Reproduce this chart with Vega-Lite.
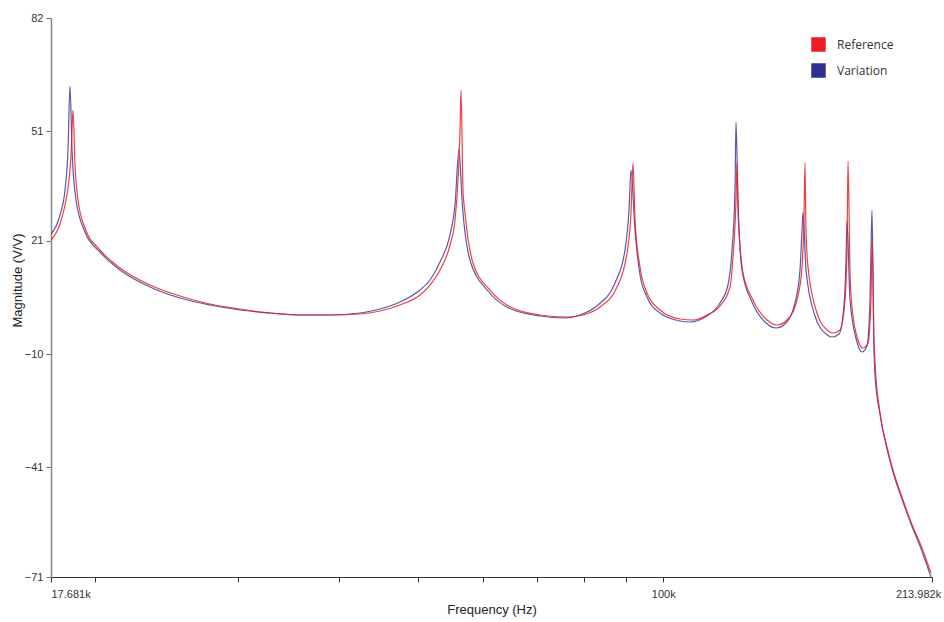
{
  "$schema": "https://vega.github.io/schema/vega-lite/v6.json",
  "autosize": {"type": "none"},
  "padding": {"left": 51, "top": 18, "right": 12, "bottom": 45},
  "width": 881,
  "height": 559,
  "background": "white",
  "config": {
    "view": {"stroke": null},
    "font": "Liberation Sans",
    "axis": {"grid": false, "labelFont": "Liberation Sans", "titleFont": "Liberation Sans", "labelColor": "#333", "titleColor": "#222", "labelFontSize": 11, "titleFontSize": 13, "titleFontWeight": "normal", "tickSize": 5, "tickColor": "#555", "domainColor": "#555", "domainWidth": 1.2}
  },
  "datasets": {
    "variation": [
      {"f": 17681, "m": 22.88, "series": "Variation"},
      {"f": 18137, "m": 28.08, "series": "Variation"},
      {"f": 18396, "m": 34.92, "series": "Variation"},
      {"f": 18552, "m": 45.87, "series": "Variation"},
      {"f": 18658, "m": 63.39, "series": "Variation"},
      {"f": 18764, "m": 45.87, "series": "Variation"},
      {"f": 18977, "m": 32.19, "series": "Variation"},
      {"f": 19467, "m": 23.43, "series": "Variation"},
      {"f": 20311, "m": 17.95, "series": "Variation"},
      {"f": 21494, "m": 13.03, "series": "Variation"},
      {"f": 23399, "m": 8.37, "series": "Variation"},
      {"f": 25473, "m": 5.36, "series": "Variation"},
      {"f": 27730, "m": 3.45, "series": "Variation"},
      {"f": 30187, "m": 2.08, "series": "Variation"},
      {"f": 32861, "m": 1.26, "series": "Variation"},
      {"f": 35773, "m": 0.71, "series": "Variation"},
      {"f": 38943, "m": 0.71, "series": "Variation"},
      {"f": 42393, "m": 1.26, "series": "Variation"},
      {"f": 44862, "m": 2.35, "series": "Variation"},
      {"f": 47477, "m": 4.27, "series": "Variation"},
      {"f": 50241, "m": 7.55, "series": "Variation"},
      {"f": 51684, "m": 10.29, "series": "Variation"},
      {"f": 53167, "m": 15.22, "series": "Variation"},
      {"f": 54694, "m": 22.61, "series": "Variation"},
      {"f": 55473, "m": 30.82, "series": "Variation"},
      {"f": 56105, "m": 46.15, "series": "Variation"},
      {"f": 56583, "m": 32.19, "series": "Variation"},
      {"f": 57879, "m": 15.76, "series": "Variation"},
      {"f": 60903, "m": 7.28, "series": "Variation"},
      {"f": 63905, "m": 3.17, "series": "Variation"},
      {"f": 70559, "m": 0.44, "series": "Variation"},
      {"f": 75733, "m": -0.11, "series": "Variation"},
      {"f": 79017, "m": 0.71, "series": "Variation"},
      {"f": 83147, "m": 3.45, "series": "Variation"},
      {"f": 87245, "m": 9.47, "series": "Variation"},
      {"f": 89749, "m": 18.5, "series": "Variation"},
      {"f": 90771, "m": 29.45, "series": "Variation"},
      {"f": 91287, "m": 40.4, "series": "Variation"},
      {"f": 92326, "m": 23.98, "series": "Variation"},
      {"f": 93642, "m": 11.66, "series": "Variation"},
      {"f": 95516, "m": 5.64, "series": "Variation"},
      {"f": 99095, "m": 1.26, "series": "Variation"},
      {"f": 104866, "m": -0.93, "series": "Variation"},
      {"f": 107876, "m": -1.2, "series": "Variation"},
      {"f": 112554, "m": 0.16, "series": "Variation"},
      {"f": 117435, "m": 4.0, "series": "Variation"},
      {"f": 120124, "m": 8.92, "series": "Variation"},
      {"f": 121492, "m": 18.5, "series": "Variation"},
      {"f": 122527, "m": 34.92, "series": "Variation"},
      {"f": 122875, "m": 53.54, "series": "Variation"},
      {"f": 123572, "m": 32.19, "series": "Variation"},
      {"f": 124979, "m": 13.03, "series": "Variation"},
      {"f": 128567, "m": 4.27, "series": "Variation"},
      {"f": 133385, "m": -1.2, "series": "Variation"},
      {"f": 137603, "m": -2.85, "series": "Variation"},
      {"f": 141553, "m": -1.48, "series": "Variation"},
      {"f": 145205, "m": 4.0, "series": "Variation"},
      {"f": 147274, "m": 13.03, "series": "Variation"},
      {"f": 148110, "m": 23.98, "series": "Variation"},
      {"f": 148530, "m": 28.9, "series": "Variation"},
      {"f": 149796, "m": 13.03, "series": "Variation"},
      {"f": 153661, "m": 0.44, "series": "Variation"},
      {"f": 158520, "m": -4.49, "series": "Variation"},
      {"f": 161235, "m": -5.31, "series": "Variation"},
      {"f": 164461, "m": -4.49, "series": "Variation"},
      {"f": 166805, "m": 3.45, "series": "Variation"},
      {"f": 167752, "m": 15.76, "series": "Variation"},
      {"f": 168227, "m": 26.44, "series": "Variation"},
      {"f": 169662, "m": 4.82, "series": "Variation"},
      {"f": 173056, "m": -6.68, "series": "Variation"},
      {"f": 175523, "m": -9.42, "series": "Variation"},
      {"f": 178024, "m": -7.77, "series": "Variation"},
      {"f": 179542, "m": 4.82, "series": "Variation"},
      {"f": 180051, "m": 18.5, "series": "Variation"},
      {"f": 180561, "m": 29.45, "series": "Variation"},
      {"f": 181586, "m": -8.87, "series": "Variation"},
      {"f": 182101, "m": -15.71, "series": "Variation"},
      {"f": 184696, "m": -26.39, "series": "Variation"},
      {"f": 188391, "m": -35.96, "series": "Variation"},
      {"f": 191618, "m": -42.26, "series": "Variation"},
      {"f": 197118, "m": -50.47, "series": "Variation"},
      {"f": 202776, "m": -57.86, "series": "Variation"},
      {"f": 206834, "m": -62.51, "series": "Variation"},
      {"f": 213374, "m": -71.0, "series": "Variation"}
    ],
    "reference": [
      {"f": 17681, "m": 21.24, "series": "Reference"},
      {"f": 18137, "m": 25.62, "series": "Reference"},
      {"f": 18396, "m": 30.82, "series": "Reference"},
      {"f": 18605, "m": 37.66, "series": "Reference"},
      {"f": 18711, "m": 44.5, "series": "Reference"},
      {"f": 18764, "m": 51.35, "series": "Reference"},
      {"f": 18817, "m": 56.82, "series": "Reference"},
      {"f": 18924, "m": 41.77, "series": "Reference"},
      {"f": 19085, "m": 32.19, "series": "Reference"},
      {"f": 19467, "m": 24.52, "series": "Reference"},
      {"f": 20311, "m": 18.5, "series": "Reference"},
      {"f": 21494, "m": 13.57, "series": "Reference"},
      {"f": 23399, "m": 8.92, "series": "Reference"},
      {"f": 25473, "m": 5.91, "series": "Reference"},
      {"f": 27730, "m": 3.72, "series": "Reference"},
      {"f": 30187, "m": 2.35, "series": "Reference"},
      {"f": 32861, "m": 1.26, "series": "Reference"},
      {"f": 35773, "m": 0.71, "series": "Reference"},
      {"f": 38943, "m": 0.71, "series": "Reference"},
      {"f": 42393, "m": 0.98, "series": "Reference"},
      {"f": 44862, "m": 1.81, "series": "Reference"},
      {"f": 47477, "m": 3.45, "series": "Reference"},
      {"f": 50241, "m": 6.19, "series": "Reference"},
      {"f": 51684, "m": 8.92, "series": "Reference"},
      {"f": 53167, "m": 13.03, "series": "Reference"},
      {"f": 54694, "m": 19.87, "series": "Reference"},
      {"f": 55473, "m": 26.71, "series": "Reference"},
      {"f": 55946, "m": 37.66, "series": "Reference"},
      {"f": 56264, "m": 51.35, "series": "Reference"},
      {"f": 56423, "m": 62.29, "series": "Reference"},
      {"f": 56743, "m": 34.92, "series": "Reference"},
      {"f": 57066, "m": 28.63, "series": "Reference"},
      {"f": 58372, "m": 14.94, "series": "Reference"},
      {"f": 61249, "m": 7.55, "series": "Reference"},
      {"f": 64268, "m": 3.45, "series": "Reference"},
      {"f": 70559, "m": 0.71, "series": "Reference"},
      {"f": 76162, "m": 0.16, "series": "Reference"},
      {"f": 79691, "m": 0.71, "series": "Reference"},
      {"f": 83619, "m": 2.9, "series": "Reference"},
      {"f": 87740, "m": 8.37, "series": "Reference"},
      {"f": 90259, "m": 17.68, "series": "Reference"},
      {"f": 91287, "m": 28.63, "series": "Reference"},
      {"f": 91805, "m": 42.31, "series": "Reference"},
      {"f": 92326, "m": 26.71, "series": "Reference"},
      {"f": 93642, "m": 13.85, "series": "Reference"},
      {"f": 95516, "m": 6.73, "series": "Reference"},
      {"f": 99095, "m": 2.08, "series": "Reference"},
      {"f": 104866, "m": -0.38, "series": "Reference"},
      {"f": 108796, "m": -0.66, "series": "Reference"},
      {"f": 113193, "m": 0.71, "series": "Reference"},
      {"f": 117435, "m": 3.17, "series": "Reference"},
      {"f": 120806, "m": 8.37, "series": "Reference"},
      {"f": 121836, "m": 16.59, "series": "Reference"},
      {"f": 122875, "m": 32.19, "series": "Reference"},
      {"f": 123223, "m": 42.59, "series": "Reference"},
      {"f": 123572, "m": 29.45, "series": "Reference"},
      {"f": 125333, "m": 12.21, "series": "Reference"},
      {"f": 128931, "m": 4.82, "series": "Reference"},
      {"f": 134142, "m": -0.66, "series": "Reference"},
      {"f": 137993, "m": -2.03, "series": "Reference"},
      {"f": 141954, "m": -0.66, "series": "Reference"},
      {"f": 146029, "m": 4.82, "series": "Reference"},
      {"f": 148110, "m": 13.85, "series": "Reference"},
      {"f": 148951, "m": 27.53, "series": "Reference"},
      {"f": 149373, "m": 42.31, "series": "Reference"},
      {"f": 149796, "m": 23.98, "series": "Reference"},
      {"f": 150647, "m": 13.85, "series": "Reference"},
      {"f": 154533, "m": 1.26, "series": "Reference"},
      {"f": 158969, "m": -3.39, "series": "Reference"},
      {"f": 161692, "m": -4.22, "series": "Reference"},
      {"f": 164927, "m": -3.39, "series": "Reference"},
      {"f": 167278, "m": 4.82, "series": "Reference"},
      {"f": 168227, "m": 18.5, "series": "Reference"},
      {"f": 168704, "m": 42.86, "series": "Reference"},
      {"f": 169662, "m": 13.03, "series": "Reference"},
      {"f": 170625, "m": 2.9, "series": "Reference"},
      {"f": 173547, "m": -6.13, "series": "Reference"},
      {"f": 176020, "m": -8.32, "series": "Reference"},
      {"f": 178529, "m": -6.95, "series": "Reference"},
      {"f": 180051, "m": 4.82, "series": "Reference"},
      {"f": 180561, "m": 21.79, "series": "Reference"},
      {"f": 181586, "m": -6.13, "series": "Reference"},
      {"f": 182101, "m": -12.15, "series": "Reference"},
      {"f": 184696, "m": -26.11, "series": "Reference"},
      {"f": 188391, "m": -35.42, "series": "Reference"},
      {"f": 191618, "m": -41.71, "series": "Reference"},
      {"f": 197118, "m": -49.92, "series": "Reference"},
      {"f": 202776, "m": -57.31, "series": "Reference"},
      {"f": 206834, "m": -61.69, "series": "Reference"},
      {"f": 213374, "m": -69.9, "series": "Reference"}
    ]
  },
  "encoding": {
    "x": {
      "field": "f",
      "type": "quantitative",
      "scale": {"type": "log", "domain": [17681, 213982], "nice": false},
      "axis": {
        "title": "Frequency (Hz)",
        "values": [17681, 20000, 30000, 40000, 50000, 60000, 70000, 80000, 90000, 100000, 213982],
        "labelExpr": "datum.value == 17681 ? '17.681k' : datum.value == 100000 ? '100k' : datum.value == 213982 ? '213.982k' : ''",
        "labelFlush": false,
        "labelOverlap": false,
        "labelAlign": {"condition": {"test": "datum.value == 17681", "value": "left"}, "value": "center"},
        "labelOffset": {"condition": {"test": "datum.value == 213982", "value": -14}, "value": 0},
        "labelPadding": 6,
        "titlePadding": 4,
        "domainColor": "#333",
        "tickColor": "#333"
      }
    },
    "y": {
      "field": "m",
      "type": "quantitative",
      "scale": {"domain": [-71, 82], "nice": false, "zero": false},
      "axis": {
        "title": "Magnitude (V/V)",
        "values": [82, 51, 21, -10, -41, -71],
        "format": "d",
        "labelPadding": 3,
        "titlePadding": 0,
        "titleY": 262,
        "domainColor": "#888",
        "domainWidth": 1.5,
        "tickColor": "#666"
      }
    },
    "color": {
      "field": "series",
      "type": "nominal",
      "scale": {"domain": ["Reference", "Variation"], "range": ["#ED1C24", "#2E3192"]},
      "legend": {
        "title": null,
        "orient": "none",
        "legendX": 760,
        "legendY": 19,
        "padding": 0,
        "symbolType": "square",
        "symbolSize": 56,
        "symbolStrokeWidth": 7,
        "symbolOpacity": 1,
        "rowPadding": -11,
        "labelOffset": 11,
        "labelFont": "Open Sans",
        "labelFontSize": 12,
        "labelColor": "#333"
      }
    }
  },
  "layer": [
    {
      "data": {"name": "variation"},
      "mark": {"type": "line", "interpolate": "monotone", "strokeWidth": 1.2, "opacity": 0.8, "clip": true}
    },
    {
      "data": {"name": "reference"},
      "mark": {"type": "line", "interpolate": "monotone", "strokeWidth": 1.2, "opacity": 0.85, "clip": true}
    }
  ]
}
